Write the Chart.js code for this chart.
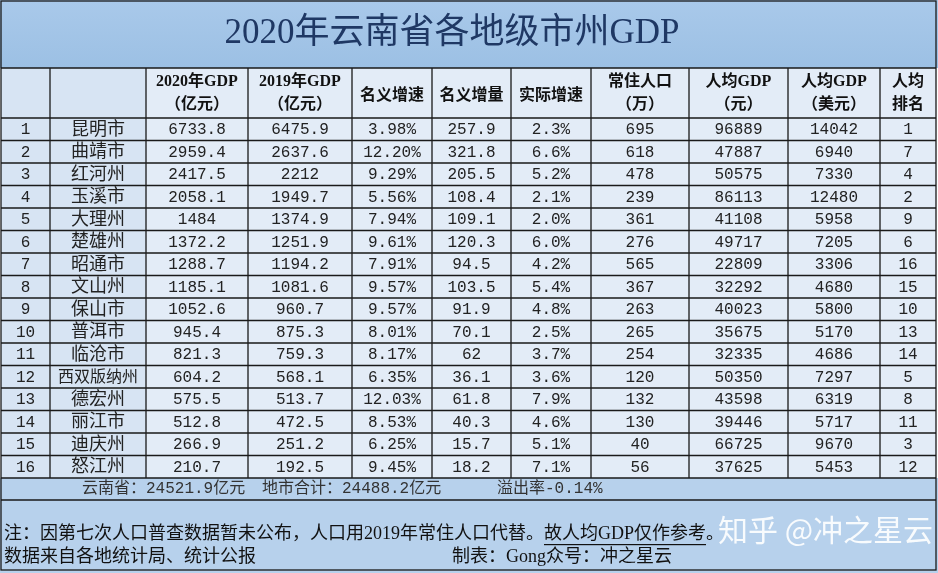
<!DOCTYPE html>
<html><head><meta charset="utf-8">
<script src="https://cdn.jsdelivr.net/npm/chart.js@4"></script>
<style>html,body{margin:0;padding:0;background:#fff}#wrap{width:938px;height:573px}</style>
</head><body><div id="wrap"><canvas id="c"></canvas></div>
<script>
// ---- data ----
const title = '2020年云南省各地级市州GDP';
const headers = [['',''],['',''],['2020年GDP','（亿元）'],['2019年GDP','（亿元）'],['名义增速'],['名义增量'],['实际增速'],['常住人口','（万）'],['人均GDP','（元）'],['人均GDP','（美元）'],['人均','排名']];
const cities = ['昆明市','曲靖市','红河州','玉溪市','大理州','楚雄州','昭通市','文山州','保山市','普洱市','临沧市','西双版纳州','德宏州','丽江市','迪庆州','怒江州'];
const gdp2020 = ['6733.8','2959.4','2417.5','2058.1','1484','1372.2','1288.7','1185.1','1052.6','945.4','821.3','604.2','575.5','512.8','266.9','210.7'];
const gdp2019 = ['6475.9','2637.6','2212','1949.7','1374.9','1251.9','1194.2','1081.6','960.7','875.3','759.3','568.1','513.7','472.5','251.2','192.5'];
const nominalRate = ['3.98%','12.20%','9.29%','5.56%','7.94%','9.61%','7.91%','9.57%','9.57%','8.01%','8.17%','6.35%','12.03%','8.53%','6.25%','9.45%'];
const nominalInc = ['257.9','321.8','205.5','108.4','109.1','120.3','94.5','103.5','91.9','70.1','62','36.1','61.8','40.3','15.7','18.2'];
const realRate = ['2.3%','6.6%','5.2%','2.1%','2.0%','6.0%','4.2%','5.4%','4.8%','2.5%','3.7%','3.6%','7.9%','4.6%','5.1%','7.1%'];
const population = ['695','618','478','239','361','276','565','367','263','265','254','120','132','130','40','56'];
const perCapitaCny = ['96889','47887','50575','86113','41108','49717','22809','32292','40023','35675','32335','50350','43598','39446','66725','37625'];
const perCapitaUsd = ['14042','6940','7330','12480','5958','7205','3306','4680','5800','5170','4686','7297','6319','5717','9670','5453'];
const rank = ['1','7','4','2','9','6','16','15','10','13','14','5','8','11','3','12'];
const summary = ['云南省：24521.9亿元','地市合计：24488.2亿元','溢出率-0.14%'];
const note1 = '注：因第七次人口普查数据暂未公布，人口用2019年常住人口代替。';
const note1b = '故人均GDP仅作参考';
const note2 = '数据来自各地统计局、统计公报';
const note3 = '制表：Gong众号：冲之星云';
const watermark = '知乎 @冲之星云';

// ---- layout ----
const colEdges = [1, 50, 146, 248, 352, 432, 511, 591, 689, 788, 880, 936];
const rowTop = 118, rowH = 22.5;
const serif = '"Liberation Serif","Noto Sans CJK SC",serif';
const mono = '"Liberation Mono","Noto Sans CJK SC",monospace';

const columns = [cities.map((_, i) => String(i + 1)), cities, gdp2020, gdp2019, nominalRate, nominalInc, realRate, population, perCapitaCny, perCapitaUsd, rank];

// one point per cell, at the cell centre
const cellPoints = [];
columns.forEach((col, c) => col.forEach((v, r) => {
    cellPoints.push({ x: (colEdges[c] + colEdges[c + 1]) / 2, y: rowTop + rowH * (r + 0.5), text: v, col: c });
}));

const tablePlugin = {
    id: 'table',
    beforeDatasetsDraw(chart) {
        const ctx = chart.ctx, xs = chart.scales.x, ys = chart.scales.y;
        const X = v => xs.getPixelForValue(v), Y = v => ys.getPixelForValue(v);
        ctx.save();
        // backgrounds
        const g = ctx.createLinearGradient(0, Y(0), 0, Y(68));
        g.addColorStop(0, '#a9c9ea'); g.addColorStop(1, '#9cc0e4');
        ctx.fillStyle = g; ctx.fillRect(X(0), Y(0), X(938) - X(0), Y(68) - Y(0));
        ctx.fillStyle = '#e3ecf7'; ctx.fillRect(X(1), Y(68), X(936) - X(1), Y(478) - Y(68));
        ctx.fillStyle = '#d7e4f3'; ctx.fillRect(X(1), Y(68), X(146) - X(1), Y(478) - Y(68));
        ctx.fillStyle = '#b7d1ec'; ctx.fillRect(X(0), Y(478), X(938) - X(0), Y(573) - Y(478));
        // grid lines
        ctx.strokeStyle = '#1a1a1a'; ctx.lineWidth = 1.3;
        ctx.strokeRect(X(1), Y(1), X(936) - X(1), Y(570) - Y(1));
        ctx.beginPath();
        ctx.moveTo(X(1), Y(68)); ctx.lineTo(X(936), Y(68));
        for (let r = 0; r <= 16; r++) { const y = Y(rowTop + rowH * r); ctx.moveTo(X(1), y); ctx.lineTo(X(936), y); }
        ctx.moveTo(X(1), Y(500)); ctx.lineTo(X(936), Y(500));
        colEdges.slice(1, -1).forEach(x => { ctx.moveTo(X(x), Y(68)); ctx.lineTo(X(x), Y(478)); });
        ctx.stroke();
        // title
        ctx.fillStyle = '#1f3864'; ctx.textAlign = 'center'; ctx.textBaseline = 'middle';
        ctx.font = '35px ' + serif;
        ctx.fillText(title, X(452), Y(34));
        // headers
        ctx.fillStyle = '#111'; ctx.font = 'bold 16px ' + serif;
        headers.forEach((h, c) => {
            const cx = X((colEdges[c] + colEdges[c + 1]) / 2);
            if (h.length === 1) ctx.fillText(h[0], cx, Y(96));
            else { ctx.fillText(h[0], cx, Y(82)); ctx.fillText(h[1], cx, Y(105)); }
        });
        // cells
        ctx.fillStyle = '#222';
        chart.getDatasetMeta(0).data.forEach((el, i) => {
            const p = cellPoints[i];
            ctx.font = p.col === 1 ? (p.text.length > 4 ? '16px ' : '18px ') + serif : '16px ' + mono;
            ctx.fillText(p.text, el.x, el.y + 1);
        });
        // summary & notes
        ctx.textAlign = 'left';
        ctx.font = '16px ' + mono; ctx.fillStyle = '#333';
        ctx.fillText(summary[0], X(82), Y(489)); ctx.fillText(summary[1], X(262), Y(489)); ctx.fillText(summary[2], X(497), Y(489));
        ctx.fillStyle = '#111'; ctx.font = '18px ' + serif;
        ctx.fillText(note1, X(4), Y(534));
        const w = ctx.measureText(note1).width;
        ctx.fillText(note1b, X(4) + w, Y(534));
        const w2 = ctx.measureText(note1b).width;
        ctx.fillRect(X(4) + w, Y(544), w2, 1.2);
        ctx.fillText('。', X(4) + w + w2, Y(534));
        ctx.fillText(note2, X(4), Y(557));
        ctx.fillText(note3, X(452), Y(557));
        ctx.font = '30px "Noto Sans CJK SC",sans-serif'; ctx.fillStyle = 'rgba(255,255,255,0.9)';
        ctx.fillText(watermark, X(718), Y(530));
        ctx.restore();
    }
};

new Chart(document.getElementById('c'), {
    type: 'scatter',
    data: { datasets: [{ data: cellPoints, pointRadius: 0, pointHoverRadius: 0 }] },
    options: {
        responsive: true, maintainAspectRatio: false, animation: false,
        layout: { padding: 0 },
        plugins: { legend: { display: false }, tooltip: { enabled: false } },
        scales: {
            x: { type: 'linear', min: 0, max: 938, display: false },
            y: { type: 'linear', min: 0, max: 573, reverse: true, display: false }
        }
    },
    plugins: [tablePlugin]
});
</script></body></html>
